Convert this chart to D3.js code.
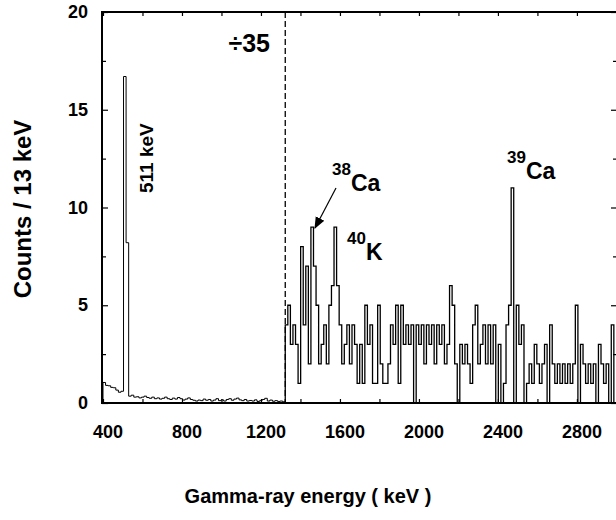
<!DOCTYPE html>
<html>
<head>
<meta charset="utf-8">
<script src="https://cdn.jsdelivr.net/npm/d3@7"></script>
<style>
body { margin: 0; background: #fff; }
text { font-family: Arial, "Liberation Sans", sans-serif; font-weight: bold; fill: #000; }
</style>
</head>
<body>
<svg id="canvas" width="616" height="520"></svg>
<script>
// bin width of the spectrum, keV
var binWidth = 13
// left part (400 - 1323 keV), counts already divided by 35
var lowStart = 400
var lowCounts = [1.05, 0.9, 0.88, 0.8, 0.78, 0.66, 0.55, 0.6,
	16.7, 8.2,
	0.35, 0.4, 0.3, 0.32, 0.26, 0.3, 0.35, 0.28, 0.24, 0.3, 0.22, 0.26, 0.2, 0.24, 0.3,
	0.22, 0.18, 0.25, 0.2, 0.28, 0.22, 0.15, 0.2, 0.26, 0.18, 0.14, 0.1, 0.15, 0.12, 0.2, 0.14, 0.18,
	0.1, 0.15, 0.22, 0.12, 0.16, 0.1, 0.18, 0.22, 0.14, 0.2, 0.25, 0.16, 0.12, 0.18, 0.1, 0.13,
	0.1, 0.16, 0.08, 0.12, 0.18, 0.24, 0.1, 0.15, 0.09, 0.12,
	0.08, 0.1, 0.06]
// right part (1323 - 3000 keV), raw counts
var highStart = 1323
var highCounts = [4, 5, 3, 4, 3, 1, 8, 4, 7, 2,
	9, 7, 5, 2, 3, 4, 2, 5, 6, 9,
	6, 4, 2, 3, 4, 2, 4, 3, 1, 3,
	1, 5, 3, 4, 1, 1, 5, 2, 1, 1,
	2, 4, 3, 5, 1, 5, 3, 4, 3, 4,
	0, 4, 3, 4, 2, 4, 3, 4, 2, 4,
	3, 4, 2, 3, 6, 5, 2, 0, 3, 2,
	3, 2, 1, 4, 5, 2, 3, 4, 2, 4,
	2, 4, 0, 3, 0, 1, 4, 5, 11, 0,
	5, 3, 4, 0, 1, 2, 1, 3, 2, 1,
	2, 3, 0, 4, 2, 1, 2, 1, 2, 1,
	2, 1, 2, 5, 0, 3, 2, 1, 2, 1,
	2, 0, 3, 2, 1, 2, 0, 4, 0]

var xMajor = [400, 800, 1200, 1600, 2000, 2400, 2800]
var xMinor = [400, 600, 800, 1000, 1200, 1400, 1600, 1800, 2000, 2200, 2400, 2600, 2800, 3000]
var yMajor = [0, 5, 10, 15, 20]
var yMinor = [2.5, 7.5, 12.5, 17.5]

// isotope tags: energy / count where the tag sits
var isoNames = ['38', '39', '40']
var isoElements = ['Ca', 'Ca', 'K']
var isoEnergy = [1560, 2446, 1636]
var isoCount = [11.66, 12.28, 8.13]

var svg = d3.select('#canvas')
var pL = 102, pR = 617, pT = 12, pB = 403

var x = d3.scaleLinear().domain([395, 3003]).range([pL, pR])
var y = d3.scaleLinear().domain([0, 20]).range([pB, pT])

svg.append('clipPath').attr('id', 'plot')
	.append('rect').attr('x', pL).attr('y', pT).attr('width', pR - pL).attr('height', pB - pT)

function steps(start, counts) {
	var pts = [[start, 0]]
	counts.forEach(function(v, i) {
		pts.push([start + i * binWidth, v])
		pts.push([start + (i + 1) * binWidth, v])
	})
	pts.push([start + counts.length * binWidth, 0])
	return pts
}

var line = d3.line().x(function(d) { return x(d[0]) }).y(function(d) { return y(d[1]) })

var g = svg.append('g').attr('clip-path', 'url(#plot)')
g.selectAll('.hist').data([steps(lowStart, lowCounts), steps(highStart, highCounts)])
	.enter().append('path')
	.attr('class', 'hist')
	.attr('d', line)
	.attr('fill', 'none')
	.attr('stroke', '#000')
	.attr('stroke-width', function(d, i) { return i ? 1.3 : 1 })

// divider between the two scalings
svg.append('line')
	.attr('x1', x(highStart)).attr('x2', x(highStart))
	.attr('y1', y(20)).attr('y2', y(0))
	.attr('stroke', '#000').attr('stroke-width', 1.3)
	.attr('stroke-dasharray', '6,3')

// axes, ticks inward
function ticks(axis, vals, size, tr) {
	var a = svg.append('g').attr('transform', tr)
		.call(axis.tickValues(vals).tickSizeInner(-size).tickSizeOuter(0).tickFormat(''))
	a.select('.domain').remove()
	a.selectAll('line').attr('stroke', '#000').attr('stroke-width', 1.2)
}
ticks(d3.axisBottom(x), xMinor, 4, 'translate(0,' + pB + ')')
ticks(d3.axisTop(x), xMinor, 4, 'translate(0,' + pT + ')')
ticks(d3.axisLeft(y), yMajor, 6, 'translate(' + pL + ',0)')
ticks(d3.axisLeft(y), yMinor, 4, 'translate(' + pL + ',0)')
ticks(d3.axisRight(y), yMajor, 6, 'translate(' + pR + ',0)')
ticks(d3.axisRight(y), yMinor, 4, 'translate(' + pR + ',0)')

svg.append('rect')
	.attr('x', pL).attr('y', pT).attr('width', pR - pL).attr('height', pB - pT)
	.attr('fill', 'none').attr('stroke', '#000').attr('stroke-width', 2)

svg.selectAll('.xl').data(xMajor).enter().append('text')
	.attr('class', 'xl')
	.attr('x', function(d) { return x(d) + 5 })
	.attr('y', 438)
	.attr('text-anchor', 'middle')
	.style('font-size', '18px')
	.text(function(d) { return d })

svg.selectAll('.yl').data(yMajor).enter().append('text')
	.attr('class', 'yl')
	.attr('x', 88)
	.attr('y', function(d) { return y(d) + 6 })
	.attr('text-anchor', 'end')
	.style('font-size', '18px')
	.text(function(d) { return d })

svg.append('text')
	.attr('x', 308).attr('y', 503)
	.attr('text-anchor', 'middle')
	.style('font-size', '20px')
	.text('Gamma-ray energy ( keV )')

svg.append('text')
	.attr('transform', 'translate(31,209) rotate(-90)')
	.attr('text-anchor', 'middle')
	.style('font-size', '24px')
	.text('Counts / 13 keV')

svg.append('text')
	.attr('x', 270).attr('y', 52)
	.attr('text-anchor', 'end')
	.style('font-size', '25px')
	.text('\u00f735')

svg.append('text')
	.attr('transform', 'translate(153,193) rotate(-90)')
	.style('font-size', '19px')
	.text('511 keV')

// isotope labels
var iso = svg.selectAll('.iso').data(isoNames).enter().append('text')
	.attr('class', 'iso')
	.attr('x', function(d, i) { return x(isoEnergy[i]) })
	.attr('y', function(d, i) { return y(isoCount[i]) })
iso.append('tspan').style('font-size', '17px').text(function(d) { return d })
iso.append('tspan').attr('dy', 16).style('font-size', '23px').text(function(d, i) { return isoElements[i] })

// arrow to the 38Ca line
svg.append('defs').append('marker')
	.attr('id', 'head').attr('viewBox', '0 0 10 10')
	.attr('refX', 9).attr('refY', 5)
	.attr('markerWidth', 10).attr('markerHeight', 10)
	.attr('orient', 'auto')
	.append('path').attr('d', 'M0,1 L10,5 L0,9 Z').attr('fill', '#000')
svg.append('line')
	.attr('x1', 336).attr('y1', 188)
	.attr('x2', 315).attr('y2', 228)
	.attr('stroke', '#000').attr('stroke-width', 1.2)
	.attr('marker-end', 'url(#head)')
</script>
</body>
</html>
